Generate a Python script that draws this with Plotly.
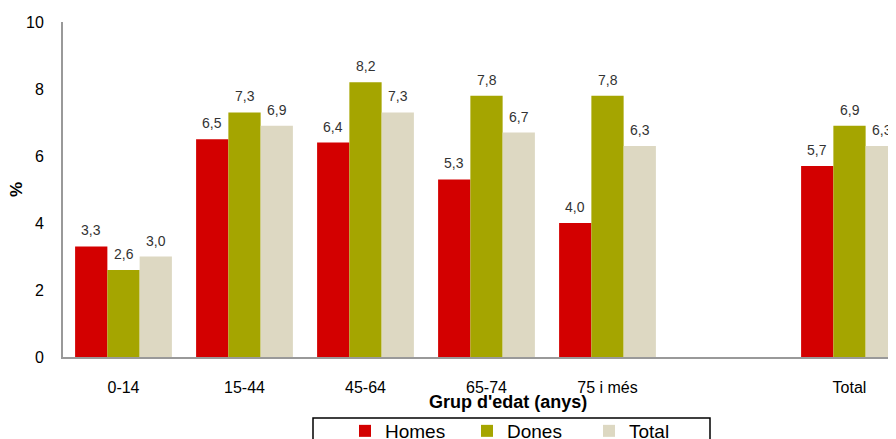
import plotly.graph_objects as go

categories = ["0-14", "15-44", "45-64", "65-74", "75 i més", " ", "Total"]
homes = [3.3, 6.5, 6.4, 5.3, 4.0, None, 5.7]
dones = [2.6, 7.3, 8.2, 7.8, 7.8, None, 6.9]
total = [3.0, 6.9, 7.3, 6.7, 6.3, None, 6.3]
y_ticks = [0, 2, 4, 6, 8, 10]

FONT = "Arial, Liberation Sans, sans-serif"

# geometry (style); the page body adds an 8px offset
OFF = 8
W, H = 896, 439
L, T = 63 - OFF, 22 - OFF
PLOT_BOTTOM = 357 - OFF
B = H - PLOT_BOTTOM
PW = W - L
PH = PLOT_BOTTOM - T
CAT_PX = 121.0
X_RANGE = [-0.5, -0.5 + PW / CAT_PX]
BARGAP = 0.2


def px_x(wx):
    return (wx - OFF - L) / PW


def px_y(wy):
    return (PLOT_BOTTOM - (wy - OFF)) / PH


series = [
    ("Homes", homes, "#d30000"),
    ("Dones", dones, "#a5a500"),
    ("Total", total, "#ddd8c2"),
]

bar_px = CAT_PX * (1 - BARGAP) / len(series)

fig = go.Figure()
annotations = []
for i, (name, vals, color) in enumerate(series):
    fig.add_trace(go.Bar(
        x=categories, y=vals, name=name,
        marker=dict(color=color, line=dict(width=0)),
    ))
    shift = (i - (len(series) - 1) / 2) * bar_px
    for c, v in zip(categories, vals):
        if v is None:
            continue
        annotations.append(dict(
            x=c, y=v, xref="x", yref="y", xshift=shift, yshift=6,
            text=f"{v:.1f}".replace(".", ","), showarrow=False,
            xanchor="center", yanchor="bottom",
            font=dict(family=FONT, size=14, color="#333333"),
        ))

annotations.append(dict(
    text="<b>Grup d'edat (anys)</b>", xref="paper", yref="paper",
    x=px_x(508), y=px_y(402), xanchor="center", yanchor="middle",
    showarrow=False, font=dict(family=FONT, size=18, color="#000000"),
))
annotations.append(dict(
    text="<b>%</b>", xref="paper", yref="paper", textangle=-90,
    x=px_x(16), y=px_y(190), xanchor="center", yanchor="middle",
    showarrow=False, font=dict(family=FONT, size=17, color="#000000"),
))

fig.update_layout(
    width=W, height=H,
    margin=dict(l=L, r=0, t=T, b=B, autoexpand=False),
    paper_bgcolor="white", plot_bgcolor="white",
    barmode="group", bargap=BARGAP, bargroupgap=0,
    separators=",.",
    font=dict(family=FONT, color="#000000"),
    showlegend=True,
    legend=dict(
        orientation="h", x=px_x(345), xanchor="left",
        yref="container", y=1 - (412 - OFF) / H, yanchor="top",
        font=dict(family=FONT, size=19, color="#000000"),
        entrywidth=77, itemwidth=30, tracegroupgap=0,
        bgcolor="rgba(0,0,0,0)", borderwidth=0,
    ),
    xaxis=dict(
        type="category", categoryorder="array", categoryarray=categories,
        range=X_RANGE, showgrid=False, zeroline=False, automargin=False,
        showline=True, linecolor="#999999", linewidth=2,
        ticks="", tickfont=dict(family=FONT, size=16, color="#000000"),
        ticklabelstandoff=15,
    ),
    yaxis=dict(
        range=[0, 10], tickvals=y_ticks, showgrid=False, zeroline=False,
        automargin=False,
        showline=True, linecolor="#999999", linewidth=2,
        ticks="", tickfont=dict(family=FONT, size=16, color="#000000"),
        ticklabelstandoff=14,
    ),
    annotations=annotations,
    shapes=[dict(
        type="rect", xref="paper", yref="paper",
        x0=px_x(313), x1=px_x(710),
        y0=px_y(418), y1=px_y(460),
        line=dict(color="#000000", width=1.5), fillcolor="rgba(0,0,0,0)",
        layer="below",
    )],
)

fig.write_html("out.html")
